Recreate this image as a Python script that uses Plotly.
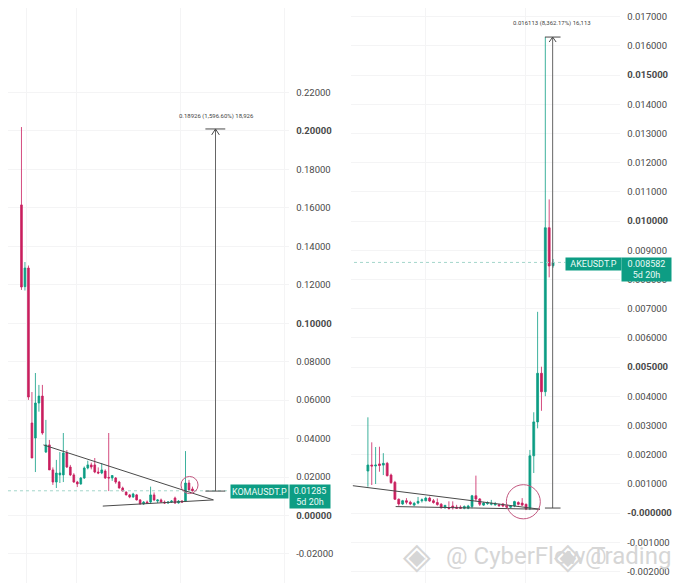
import plotly.graph_objects as go

# the page keeps its 8px body margin, so the figure sits at (8, 8) in the window
FIG_WIDTH = 664
FIG_HEIGHT = 583
PAGE_MARGIN = 8
UP = "#0d9d84"
DOWN = "#c9205f"
GRID = "#f4f4f5"
DRAW = "#4a4a4a"

# KOMAUSDT.P candles
koma_open = [.1615, .1190, .1287, .0481, .0403, .0585, .0621, .0330, .0367, .0237,
             .0174, .0211, .0211, .0325, .0252, .0211, .0174, .0164, .0195, .0247,
             .0263, .0263, .0226, .0221, .0231, .0198, .0195, .0195, .0174, .0143,
             .0122, .0107, .0096, .0107, .0081, .0060, .0070, .0070, .0107, .0075,
             .0081, .0070, .0065, .0070, .0091, .0065, .0075, .0075, .0169, .0138]
koma_high = [.2020, .1318, .1300, .0642, .0741, .0679, .0679, .0497, .0393, .0250,
             .0289, .0330, .0429, .0340, .0263, .0220, .0180, .0200, .0255, .0285,
             .0275, .0299, .0250, .0273, .0240, .0429, .0210, .0200, .0180, .0150,
             .0125, .0112, .0118, .0112, .0085, .0075, .0078, .0150, .0120, .0085,
             .0088, .0078, .0075, .0080, .0098, .0080, .0080, .0335, .0185, .0150]
koma_low = [.1173, .1170, .0601, .0299, .0226, .0540, .0420, .0325, .0237, .0159,
            .0143, .0169, .0174, .0247, .0205, .0170, .0148, .0160, .0190, .0240,
            .0240, .0220, .0215, .0215, .0190, .0127, .0180, .0165, .0140, .0125,
            .0105, .0090, .0092, .0078, .0058, .0055, .0060, .0060, .0075, .0065,
            .0068, .0060, .0060, .0065, .0060, .0062, .0065, .0070, .0125, .0125]
koma_close = [.1188, .1287, .0616, .0299, .0585, .0621, .0429, .0367, .0237, .0174,
              .0221, .0221, .0325, .0252, .0211, .0174, .0164, .0195, .0247, .0263,
              .0252, .0226, .0221, .0237, .0195, .0195, .0208, .0174, .0143, .0127,
              .0107, .0096, .0112, .0081, .0060, .0070, .0065, .0107, .0081, .0081,
              .0070, .0065, .0070, .0075, .0065, .0075, .0070, .0169, .0133, .0128]

# AKEUSDT.P candles
ake_open = [.001438, .001644, .001610, .001680, .001640, .001700, .001300, .001050, .000470, .000310,
            .000420, .000370, .000270, .000340, .000420, .000420, .000510, .000420, .000360, .000300,
            .000180, .000180, .000240, .000200, .000200, .000160, .000160, .000220, .000590, .000480,
            .000270, .000320, .000300, .000280, .000280, .000310, .000260, .000200, .000240, .000360,
            .000340, .000300, .000160, .001960, .003120, .004785, .004155, .009770, .008470]
ake_high = [.003277, .002421, .002260, .002270, .002050, .001750, .001350, .001100, .000500, .000450,
            .000510, .000420, .000380, .000550, .000500, .000560, .000560, .000480, .000500, .000340,
            .000280, .000400, .000400, .000280, .000260, .000260, .000280, .000620, .001280, .000510,
            .000380, .000400, .000450, .000380, .000320, .000340, .000300, .000260, .000420, .000400,
            .000510, .000320, .002160, .003450, .006890, .005010, .016300, .010740, .008700]
ake_low = [.000901, .000959, .000993, .001414, .001300, .001250, .001000, .000450, .000250, .000280,
           .000300, .000270, .000230, .000300, .000360, .000400, .000380, .000320, .000250, .000150,
           .000150, .000120, .000120, .000140, .000140, .000130, .000130, .000160, .000400, .000240,
           .000240, .000280, .000260, .000250, .000220, .000200, .000170, .000170, .000200, .000260,
           .000240, .000100, .000100, .001370, .002900, .003500, .004000, .008070, .008400]
ake_close = [.001644, .001610, .001640, .001630, .001700, .001280, .001040, .000470, .000310, .000420,
             .000370, .000310, .000330, .000400, .000450, .000510, .000410, .000360, .000290, .000180,
             .000260, .000160, .000180, .000160, .000160, .000220, .000240, .000590, .000480, .000300,
             .000340, .000360, .000330, .000310, .000250, .000240, .000200, .000230, .000390, .000300,
             .000270, .000140, .001960, .003120, .004785, .004155, .009770, .008460, .008582]

# price axes
koma_ticks = [.22, .20, .18, .16, .14, .12, .10, .08, .06, .04, .02, 0, -.02]
koma_labels = ["0.22000", "<b>0.20000</b>", "0.18000", "0.16000", "0.14000", "0.12000",
               "<b>0.10000</b>", "0.08000", "0.06000", "0.04000", "0.02000", "<b>0.00000</b>", "-0.02000"]
ake_ticks = [.017, .016, .015, .014, .013, .012, .011, .010, .009, .008, .007, .006, .005,
             .004, .003, .002, .001, 0, -.001, -.002]
ake_labels = ["0.017000", "0.016000", "<b>0.015000</b>", "0.014000", "0.013000", "0.012000", "0.011000",
              "<b>0.010000</b>", "0.009000", "0.008000", "0.007000", "0.006000", "<b>0.005000</b>",
              "0.004000", "0.003000", "0.002000", "0.001000", "<b>-0.000000</b>", "-0.001000", "-0.002000"]

# time gridlines, in candle numbers
koma_grid = [1.3, 15.9, 45.6, 75.3]
ake_grid = [15.0, 40.8]

koma_last = 0.01285
ake_last = 0.008582

# drawings on the charts
koma_upper_x, koma_upper_y = [6.3, 55.0], [.0367, .0081]
koma_lower_x, koma_lower_y = [23.3, 55.0], [.0049, .0081]
koma_measure_x, koma_measure_y = [55.6, 55.6], [.0127, .2010]
koma_cap_x = [52.7, 58.4]
koma_arrow_x, koma_arrow_y = [54.5, 55.6, 56.7], [.1979, .2010, .1979]
ake_upper_x, ake_upper_y = [-3.9, 44.6], [.000935, .00013]
ake_lower_x, ake_lower_y = [7.2, 44.6], [.00022, .00013]
ake_measure_x, ake_measure_y = [47.9, 47.9], [.00017, .0163]
ake_cap_x = [45.9, 49.95]
ake_arrow_x, ake_arrow_y = [47.0, 47.9, 48.8], [.01613, .0163, .01613]


def px_x(x):
    return (x - PAGE_MARGIN) / FIG_WIDTH


def px_y(y):
    return 1 - (y - PAGE_MARGIN) / FIG_HEIGHT


def line_trace(x, y, xaxis, yaxis, color=DRAW, width=1, dash="solid"):
    return go.Scatter(x=x, y=y, xaxis=xaxis, yaxis=yaxis, mode="lines", hoverinfo="skip",
                      line={"color": color, "width": width, "dash": dash}, showlegend=False)


def candle_trace(open_, high, low, close, xaxis, yaxis):
    return go.Candlestick(
        x=list(range(len(open_))), open=open_, high=high, low=low, close=close,
        xaxis=xaxis, yaxis=yaxis, whiskerwidth=0, showlegend=False,
        increasing={"line": {"color": UP, "width": 0.8}, "fillcolor": UP},
        decreasing={"line": {"color": DOWN, "width": 0.8}, "fillcolor": DOWN},
    )


def badge(x0, x1, y0, y1, text):
    return {
        "x": px_x(x0), "y": px_y(y0), "xref": "paper", "yref": "paper",
        "xanchor": "left", "yanchor": "top", "showarrow": False, "align": "center",
        "width": x1 - x0, "height": y1 - y0, "bgcolor": UP, "borderpad": 0,
        "text": text, "font": {"color": "#eafaf6", "size": 9},
    }


def note(x, y, text, size, color="#d6d6d6", anchor="center"):
    return {
        "x": px_x(x), "y": px_y(y), "xref": "paper", "yref": "paper",
        "xanchor": anchor, "yanchor": "middle", "showarrow": False,
        "text": text, "font": {"color": color, "size": size},
    }


fig = go.Figure()
fig.add_trace(line_trace([-3.86, 59.6], [koma_last, koma_last], "x", "y", "#a3d6cb", 1, "dot"))
fig.add_trace(line_trace([-3.6, 51.2], [ake_last, ake_last], "x2", "y2", "#a3d6cb", 1, "dot"))
fig.add_trace(candle_trace(koma_open, koma_high, koma_low, koma_close, "x", "y"))
fig.add_trace(candle_trace(ake_open, ake_high, ake_low, ake_close, "x2", "y2"))

fig.add_trace(line_trace(koma_upper_x, koma_upper_y, "x", "y"))
fig.add_trace(line_trace(koma_lower_x, koma_lower_y, "x", "y"))
fig.add_trace(line_trace(koma_measure_x, koma_measure_y, "x", "y", "#666666"))
fig.add_trace(line_trace(koma_cap_x, [koma_measure_y[0]] * 2, "x", "y"))
fig.add_trace(line_trace(koma_cap_x, [koma_measure_y[1]] * 2, "x", "y"))
fig.add_trace(line_trace(koma_arrow_x, koma_arrow_y, "x", "y"))

fig.add_trace(line_trace(ake_upper_x, ake_upper_y, "x2", "y2"))
fig.add_trace(line_trace(ake_lower_x, ake_lower_y, "x2", "y2"))
fig.add_trace(line_trace(ake_measure_x, ake_measure_y, "x2", "y2", "#666666"))
fig.add_trace(line_trace(ake_cap_x, [ake_measure_y[0]] * 2, "x2", "y2"))
fig.add_trace(line_trace(ake_cap_x, [ake_measure_y[1]] * 2, "x2", "y2"))
fig.add_trace(line_trace(ake_arrow_x, ake_arrow_y, "x2", "y2"))

tick_font = {"size": 9.5, "color": "#4a4a4a", "family": "Roboto"}
x_common = {"showticklabels": False, "ticks": "", "showline": False, "zeroline": False,
            "gridcolor": GRID, "gridwidth": 1, "rangeslider": {"visible": False}, "tickmode": "array"}
y_common = {"side": "right", "ticks": "", "showline": False, "zeroline": False, "gridcolor": GRID,
            "gridwidth": 1, "tickmode": "array", "tickfont": tick_font, "domain": [0, 1],
            "ticklabelstandoff": 6}

fig.update_layout(
    width=FIG_WIDTH,
    height=FIG_HEIGHT,
    margin={"l": 0, "r": 0, "t": 0, "b": 0},
    paper_bgcolor="white",
    plot_bgcolor="white",
    font={"family": "Roboto"},
    showlegend=False,
    xaxis={**x_common, "domain": [px_x(8), px_x(290)], "range": [-3.857, 76.7], "tickvals": koma_grid, "anchor": "y"},
    yaxis={**y_common, "range": [-0.03926, 0.2639], "tickvals": koma_ticks, "ticktext": koma_labels, "anchor": "x"},
    xaxis2={**x_common, "domain": [px_x(352), px_x(622)], "range": [-4.39, 65.4], "tickvals": ake_grid, "anchor": "y2"},
    yaxis2={**y_common, "range": [-0.002671, 0.017295], "tickvals": ake_ticks, "ticktext": ake_labels, "anchor": "x2"},
    shapes=[
        {"type": "circle", "xref": "x", "yref": "y", "x0": 45.7, "x1": 50.6, "y0": .0114, "y1": .0203,
         "line": {"color": "#c2577f", "width": 1}},
        {"type": "circle", "xref": "x2", "yref": "y2", "x0": 35.9, "x1": 44.7, "y0": -.0002, "y1": .00097,
         "line": {"color": "#c2577f", "width": 1}},
    ],
    annotations=[
        badge(231, 288, 484, 497, "KOMAUSDT.P"),
        badge(290, 330, 484, 507, "0.01285<br>5d 20h"),
        badge(567, 622, 257, 269, "AKEUSDT.P"),
        badge(623, 672, 257, 280, "0.008582<br>5d 20h"),
        note(217.5, 116, "0.18926 (1,596.60%) 18,926", 6, "#444444"),
        note(554, 23, "0.016113 (8,362.17%) 16,113", 6, "#444444"),
        note(418, 556, "◈", 36),
        note(570, 556, "◈", 36),
        note(445, 556, "@ CyberFlow Trading", 24, anchor="left"),
        note(598, 556, "@", 24),
    ],
)

fig.write_html("out.html")
